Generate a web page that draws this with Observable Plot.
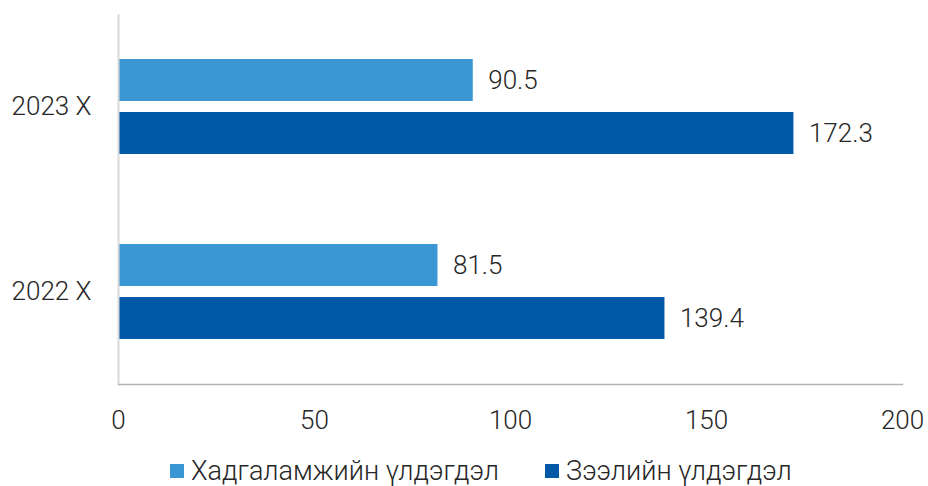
<!DOCTYPE html>
<html>
<head>
<meta charset="utf-8">
<script src="https://cdn.jsdelivr.net/npm/d3@7"></script>
<script src="https://cdn.jsdelivr.net/npm/@observablehq/plot@0.6"></script>
<style>
  body { margin: 0; background: #fff; font-family: Roboto, sans-serif; font-weight: 300; color: #262626; }
  #legend { display: flex; align-items: center; padding-left: 170px; margin-top: 8px; height: 30px; font-size: 27px; }
  .item { display: flex; align-items: center; margin-right: 46px; }
  .sw { width: 14px; height: 14px; margin-right: 7px; }
</style>
</head>
<body>
<div id="chart"></div>
<div id="legend"></div>
<script>
const years = ["2023 X", "2022 X"];
const series = ["Хадгаламжийн үлдэгдэл", "Зээлийн үлдэгдэл"];
const deposits = [90.5, 81.5];
const loans = [172.3, 139.4];
const colors = ["#3B97D3", "#0058A6"];
const xTicks = [0, 50, 100, 150, 200];

const data = [];
years.forEach((yr, i) => {
  data.push({year: yr, series: series[0], value: deposits[i]});
  data.push({year: yr, series: series[1], value: loans[i]});
});

const chart = Plot.plot({
  width: 928,
  height: 448,
  marginLeft: 118,
  marginRight: 26,
  marginTop: 14,
  marginBottom: 64,
  x: {domain: [0, 200], axis: null},
  y: {domain: series, axis: null, paddingInner: 0.21, paddingOuter: 0.85},
  fy: {domain: years, padding: 0, axis: null, label: null},
  color: {domain: series, range: colors},
  style: {fontFamily: "Roboto", fontWeight: 300, fontSize: "26px", color: "#262626", background: "#fff"},
  marks: [
    Plot.axisFy({anchor: "left", tickSize: 0, tickPadding: 27, label: null, fontSize: 26}),
    Plot.axisX({ticks: xTicks, tickSize: 0, tickPadding: 26, label: null, fontSize: 26}),
    Plot.barX(data, {x: "value", y: "series", fy: "year", fill: "series"}),
    Plot.text(data, {x: "value", y: "series", fy: "year", text: d => d.value.toFixed(1), textAnchor: "start", dx: 15, fontSize: 26, fill: "#262626"}),
    Plot.ruleX([0], {stroke: "#d9d9d9", strokeWidth: 2}),
    Plot.frame({anchor: "bottom", facetAnchor: "bottom", stroke: "#b3b3b3", strokeWidth: 1.5})
  ]
});
document.getElementById("chart").appendChild(chart);

const legend = document.getElementById("legend");
series.forEach((s, i) => {
  const item = document.createElement("div");
  item.className = "item";
  const sw = document.createElement("span");
  sw.className = "sw";
  sw.style.background = colors[i];
  const t = document.createElement("span");
  t.textContent = s;
  item.appendChild(sw);
  item.appendChild(t);
  legend.appendChild(item);
});
</script>
</body>
</html>
